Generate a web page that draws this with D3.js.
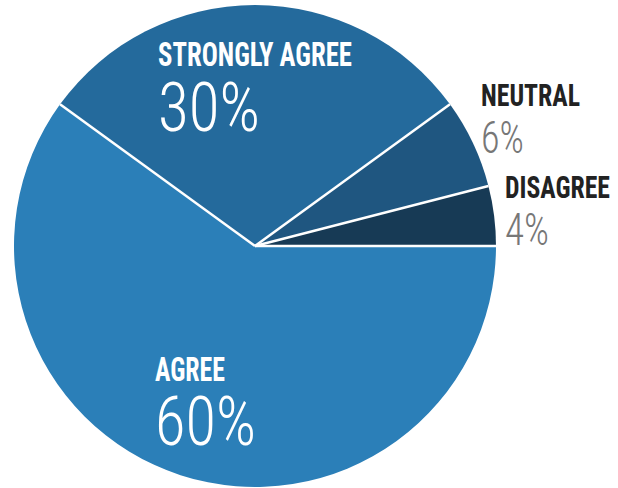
<!DOCTYPE html>
<html><head><meta charset="utf-8">
<script src="https://cdn.jsdelivr.net/npm/d3@7"></script>
<style>html,body{margin:0;padding:0;background:#fff;}</style>
</head><body>
<svg id="c" width="618" height="488"></svg>
<script>
const categories = ["AGREE", "STRONGLY AGREE", "NEUTRAL", "DISAGREE"];
const values = [60, 30, 6, 4];
const valueLabels = ["60%", "30%", "6%", "4%"];
const colors = ["#2b7fb8", "#246a9c", "#1f5680", "#173a55"];

const svg = d3.select("#c");
const cx = 255, cy = 246, r = 241;
const g = svg.append("g").attr("transform", `translate(${cx},${cy})`);

const pie = d3.pie().sort(null).value(d => d.v)
  .startAngle(Math.PI / 2).endAngle(Math.PI / 2 + 2 * Math.PI);
const data = categories.map((c, i) => ({c, v: values[i], col: colors[i], lab: valueLabels[i]}));
const arcs = pie(data);
const arc = d3.arc().innerRadius(0).outerRadius(r);

g.selectAll("path").data(arcs).enter().append("path")
  .attr("d", arc).attr("fill", d => d.data.col);

// white separator lines
g.selectAll("line.sep").data(arcs).enter().append("line")
  .attr("x1", 0).attr("y1", 0)
  .attr("x2", d => r * Math.sin(d.startAngle))
  .attr("y2", d => -r * Math.cos(d.startAngle))
  .attr("stroke", "#fff").attr("stroke-width", 2.5);

const layout = [
  {x:155, nb:381, nw:70, ns:33, vb:445, vw:101, vs:68, nc:"#ffffff", vc:"#ffffff"},
  {x:158, nb:66, nw:194, ns:33, vb:131, vw:102, vs:68, nc:"#ffffff", vc:"#ffffff"},
  {x:481, nb:106, nw:99, ns:31, vb:153, vw:43, vs:45, nc:"#222222", vc:"#777777"},
  {x:505, nb:198, nw:105, ns:32, vb:245, vw:44, vs:45, nc:"#222222", vc:"#777777"}
];

function condensedText(str, x, y, w, size, weight, fill) {
  const grp = svg.append("g");
  const t = grp.append("text").text(str)
    .attr("x", 0).attr("y", 0)
    .attr("font-family", "'Roboto Condensed', Roboto, sans-serif")
    .attr("font-weight", weight).attr("font-size", size)
    .attr("fill", fill);
  const natural = t.node().getComputedTextLength() || w;
  grp.attr("transform", `translate(${x},${y}) scale(${w / natural},1)`);
}

data.forEach((d, i) => {
  const L = layout[i];
  condensedText(d.c, L.x, L.nb, L.nw, L.ns, 700, L.nc);
  condensedText(d.lab, L.x, L.vb, L.vw, L.vs, 300, L.vc);
});
</script>
</body></html>
